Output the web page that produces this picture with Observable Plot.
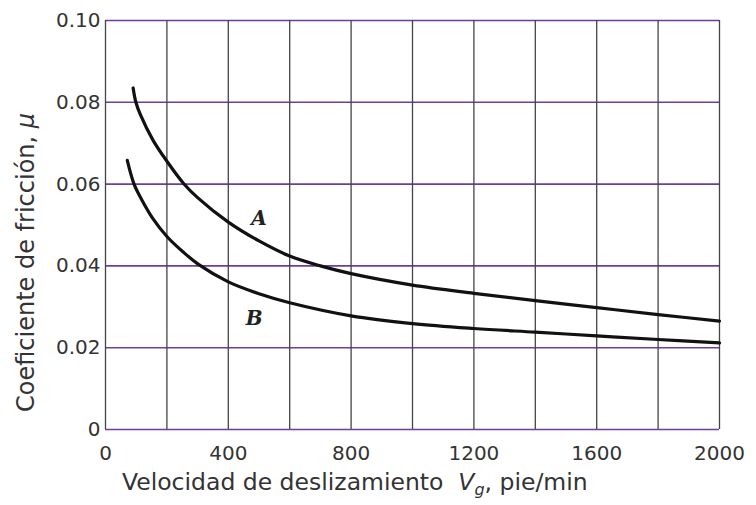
<!DOCTYPE html>
<html><head><meta charset="utf-8">
<script src="https://cdn.jsdelivr.net/npm/d3@7"></script>
<script src="https://cdn.jsdelivr.net/npm/@observablehq/plot@0.6"></script>
<style>body{margin:0;background:#fff}</style>
</head><body><div id="chart"></div>
<script>
// Curve A
const velA = [90, 99, 114, 155, 200, 255, 300, 400, 500, 600, 700, 800, 1000, 1200, 1400, 1600, 1800, 2000];
const muA  = [0.0835, 0.0800, 0.0769, 0.0707, 0.0656, 0.0601, 0.0567, 0.0507, 0.0461, 0.0424, 0.0400, 0.0381, 0.0353, 0.0333, 0.0315, 0.0298, 0.0281, 0.0265];
// Curve B
const velB = [71, 93, 118, 155, 200, 253, 304, 400, 500, 600, 800, 1000, 1200, 1400, 1600, 1800, 2000];
const muB  = [0.0658, 0.0600, 0.0562, 0.0515, 0.0472, 0.0434, 0.0403, 0.0361, 0.0332, 0.0310, 0.0278, 0.0259, 0.0247, 0.0238, 0.0229, 0.0220, 0.0212];
const xGrid = [0, 200, 400, 600, 800, 1000, 1200, 1400, 1600, 1800, 2000];
const yGrid = [0, 0.02, 0.04, 0.06, 0.08, 0.10];
const xTicks = [0, 400, 800, 1200, 1600, 2000];
const yTicks = [0, 0.02, 0.04, 0.06, 0.08, 0.10];
const curveLabels = ["A", "B"];
const labelX = [500, 484];
const labelY = [0.0516, 0.0271];

const dataA = velA.map((v, i) => ({v, mu: muA[i]}));
const dataB = velB.map((v, i) => ({v, mu: muB[i]}));
const labels = curveLabels.map((t, i) => ({t, v: labelX[i], mu: labelY[i]}));

const font = "DejaVu Sans, Liberation Sans, sans-serif";
const chart = Plot.plot({
  width: 756, height: 505,
  marginLeft: 105, marginRight: 37, marginTop: 20, marginBottom: 76,
  style: {fontFamily: font, fontSize: "20px", color: "#333", background: "#fff"},
  x: {domain: [0, 2000]},
  y: {domain: [0, 0.10]},
  marks: [
    Plot.ruleY(yGrid, {stroke: "#6a3fa0", strokeWidth: 1.6}),
    Plot.ruleX(xGrid, {stroke: "#444", strokeWidth: 1.3}),
    Plot.line(dataA, {x: "v", y: "mu", stroke: "#111", strokeWidth: 3.2, curve: "catmull-rom"}),
    Plot.line(dataB, {x: "v", y: "mu", stroke: "#111", strokeWidth: 3.2, curve: "catmull-rom"}),
    Plot.text(labels, {x: "v", y: "mu", text: "t", fontFamily: "DejaVu Serif, serif", fontStyle: "italic", fontWeight: "bold", fontSize: 20, fill: "#222"}),
    Plot.axisX({ticks: xTicks, tickSize: 0, tickPadding: 16, label: null, tickFormat: d => String(d), fontSize: 20}),
    Plot.axisY({ticks: yTicks, tickSize: 0, tickPadding: 5, label: null, tickFormat: d => d === 0 ? "0" : d.toFixed(2), fontSize: 20})
  ]
});
document.getElementById("chart").appendChild(chart);

const svg = d3.select(chart);
const xt = svg.append("text")
  .attr("x", 122).attr("y", 490).attr("text-anchor", "start")
  .attr("fill", "#333").style("font-family", font).style("font-size", "23.5px");
xt.append("tspan").text("Velocidad de deslizamiento\u00a0\u00a0");
xt.append("tspan").style("font-style", "italic").text("V");
xt.append("tspan").attr("dy", 5).style("font-size", "16px").style("font-style", "italic").text("g");
xt.append("tspan").attr("dy", -5).text(", pie/min");

const yt = svg.append("text")
  .attr("transform", "translate(34,412) rotate(-90)").attr("text-anchor", "start")
  .attr("fill", "#333").style("font-family", font).style("font-size", "24px");
yt.append("tspan").text("Coeficiente de fricción, ");
yt.append("tspan").style("font-style", "italic").text("μ");
</script>
</body></html>
